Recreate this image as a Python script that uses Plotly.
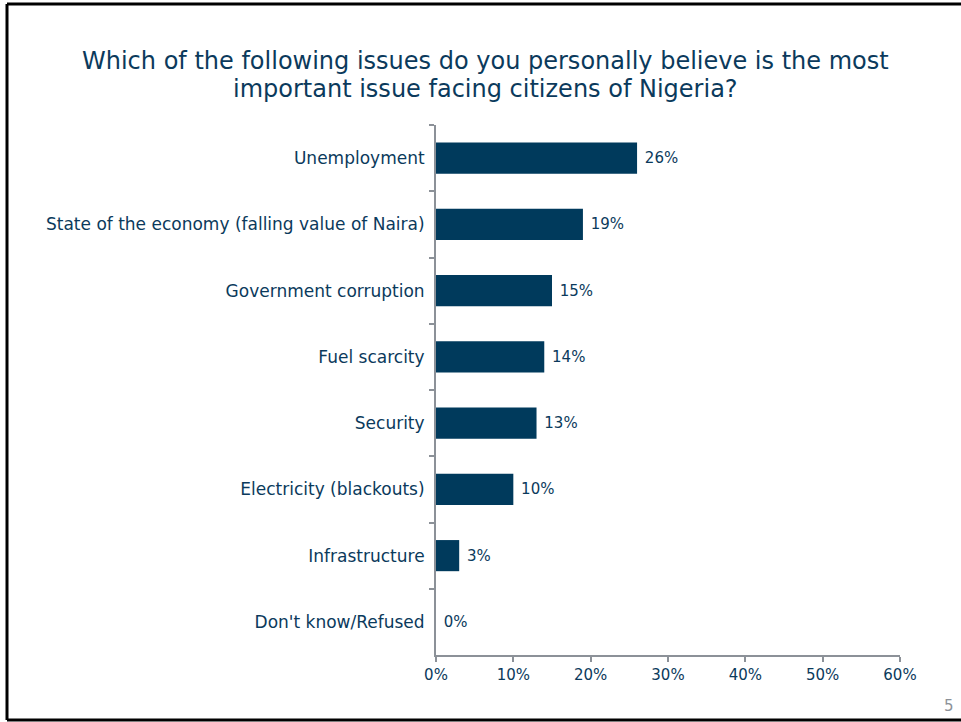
import plotly.graph_objects as go

categories = ["Unemployment", "State of the economy (falling value of Naira)",
              "Government corruption", "Fuel scarcity", "Security",
              "Electricity (blackouts)", "Infrastructure", "Don't know/Refused"]
values = [26, 19, 15, 14, 13, 10, 3, 0]
tick_vals = [0, 10, 20, 30, 40, 50, 60]
tick_text = ["0%", "10%", "20%", "30%", "40%", "50%", "60%"]
title_lines = ["Which of the following issues do you personally believe is the most",
               "important issue facing citizens of Nigeria?"]

W, H = 961, 722
L, R, T, B = 436, 900, 125, 655
FONT = "DejaVu Sans"
NAVY = "#003A5C"
TXT = "#0B3A5C"
GRAY = "#8C9198"

def px(x):
    return (x - L) / (R - L)

def py(y):
    return (B - y) / (B - T)

fig = go.Figure(go.Bar(
    x=values, y=categories, orientation="h",
    marker=dict(color=NAVY, line=dict(width=0)),
    text=[f"\u00a0{v}%" for v in values], textposition="outside",
    textfont=dict(family=FONT, size=15, color=TXT),
    cliponaxis=False,
))

fig.update_layout(
    width=W, height=H,
    margin=dict(l=L, r=W - R, t=T, b=H - B),
    paper_bgcolor="white", plot_bgcolor="white",
    bargap=0.53, showlegend=False,
    font=dict(family=FONT, color=TXT, size=15),
    xaxis=dict(range=[0, 60], tickvals=tick_vals, ticktext=tick_text,
               showgrid=False, zeroline=False, showline=True, linecolor=GRAY,
               linewidth=2, ticks="outside", ticklen=5, tickwidth=2, tickcolor=GRAY,
               tickfont=dict(family=FONT, size=15, color=TXT), fixedrange=True),
    yaxis=dict(autorange="reversed", showgrid=False, zeroline=False, showline=True,
               linecolor=GRAY, linewidth=2, ticks="outside", ticklen=5, tickwidth=2,
               tickcolor=GRAY, tickson="boundaries", ticklabelstandoff=6,
               tickfont=dict(family=FONT, size=17, color=TXT)),
)

fig.add_annotation(text=title_lines[0], xref="paper", yref="paper",
                   x=px(485), y=py(61), showarrow=False, xanchor="center", yanchor="middle",
                   borderpad=0, font=dict(family=FONT, size=24, color=TXT))
fig.add_annotation(text=title_lines[1], xref="paper", yref="paper",
                   x=px(485), y=py(89), showarrow=False, xanchor="center", yanchor="middle",
                   borderpad=0, font=dict(family=FONT, size=24, color=TXT))
fig.add_annotation(text="5", xref="paper", yref="paper",
                   x=px(949), y=py(706), showarrow=False, xanchor="center", yanchor="middle",
                   font=dict(family=FONT, size=15, color="#8C9198"))

frame = dict(type="line", xref="paper", yref="paper", line=dict(color="black", width=3))
fig.add_shape(**frame, x0=px(7), x1=px(7), y0=py(4), y1=py(720))
fig.add_shape(**frame, x0=px(7), x1=px(970), y0=py(4), y1=py(4))
fig.add_shape(**frame, x0=px(7), x1=px(970), y0=py(720), y1=py(720))

fig.write_html("out.html")
